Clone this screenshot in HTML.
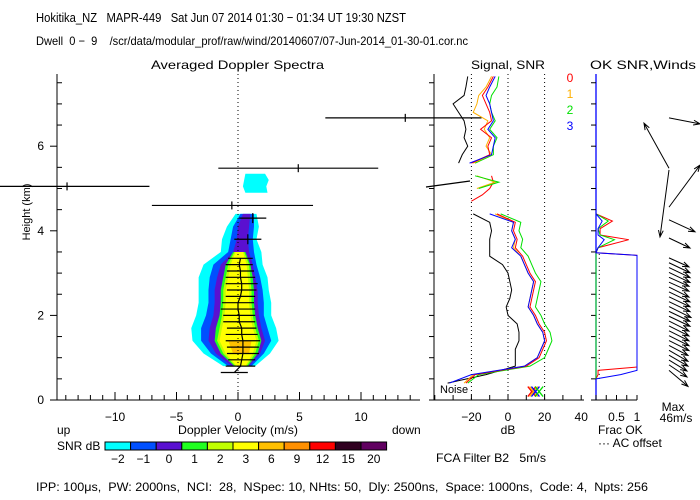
<!DOCTYPE html>
<html><head><meta charset="utf-8"><style>
body{margin:0;background:#fff}
svg{display:block;font-family:"Liberation Sans",sans-serif;font-size:12px}
text{white-space:pre}
</style></head><body>
<svg id="c" width="700" height="500" viewBox="0 0 700 500" xmlns="http://www.w3.org/2000/svg">
<text x="36" y="22" font-size="13" textLength="370" lengthAdjust="spacingAndGlyphs">Hokitika_NZ   MAPR-449   Sat Jun 07 2014 01:30 − 01:34 UT 19:30 NZST</text>
<text x="36" y="45" font-size="12" textLength="432" lengthAdjust="spacingAndGlyphs">Dwell  0 −  9    /scr/data/modular_prof/raw/wind/20140607/07-Jun-2014_01-30-01.cor.nc</text>
<text x="151" y="69" textLength="173" lengthAdjust="spacingAndGlyphs">Averaged Doppler Spectra</text>
<text x="471" y="69" textLength="74" lengthAdjust="spacingAndGlyphs">Signal, SNR</text>
<text x="590" y="69" textLength="106" lengthAdjust="spacingAndGlyphs">OK SNR,Winds</text>
<text x="0" y="0" transform="translate(30,212) rotate(-90)" text-anchor="middle" font-size="11">Height (km)</text>
<text x="178" y="434" textLength="120" lengthAdjust="spacingAndGlyphs">Doppler Velocity (m/s)</text>
<text x="57" y="434">up</text>
<text x="392" y="434">down</text>
<text x="57" y="450">SNR dB</text>
<text x="508" y="434" text-anchor="middle">dB</text>
<text x="598" y="434">Frac OK</text>
<text x="598" y="447">··· AC offset</text>
<text x="673" y="411" text-anchor="middle">Max</text>
<text x="676" y="422" text-anchor="middle">46m/s</text>
<text x="436" y="462" textLength="110" lengthAdjust="spacingAndGlyphs">FCA Filter B2   5m/s</text>
<text x="36" y="491" font-size="11.5" textLength="612" lengthAdjust="spacingAndGlyphs">IPP: 100μs,  PW: 2000ns,  NCI:  28,  NSpec: 10, NHts: 50,  Dly: 2500ns,  Space: 1000ns,  Code: 4,  Npts: 256</text>
<text x="440" y="393" font-size="11">Noise</text>
<g id="g"></g>
</svg>
<script>
// ---- data ----
const specH=[0.8,1.1,1.4,1.7,2.0,2.3,2.6,2.9,3.2,3.5,3.8,4.1,4.4];
const cyanL=[-1.2,-2.8,-3.7,-3.8,-3.4,-3.2,-3.2,-3.2,-2.8,-1.4,-1.3,-0.9,-0.2];
const cyanR=[1.4,2.6,3.3,3.1,2.7,2.7,2.5,2.4,2.0,1.9,1.5,1.7,1.5];
const blueL=[-0.8,-2.2,-3.0,-3.0,-2.6,-2.4,-2.4,-2.3,-2.0,-0.8,-0.6,-0.4,0.2];
const blueR=[1.1,2.1,2.7,2.4,2.1,2.1,2.0,1.8,1.5,1.3,1.2,1.3,1.3];
const purpL=[-0.5,-1.8,-2.4,-2.3,-2.0,-1.9,-1.9,-1.7,-1.4,-0.4,-0.1,0.0,0.4];
const purpR=[0.9,1.8,2.2,1.9,1.7,1.6,1.6,1.4,1.2,0.9,0.8,0.9,1.0];
const grnL=[-0.3,-1.4,-1.9,-1.8,-1.5,-1.4,-1.4,-1.2,-1.0,-0.4,null,null,null];
const grnR=[0.8,1.6,1.9,1.6,1.4,1.3,1.3,1.2,1.0,0.6,null,null,null];
const ygL=[-0.2,-1.2,-1.7,-1.5,-1.3,-1.2,-1.2,-1.0,-0.8,-0.3,null,null,null];
const ygR=[0.7,1.4,1.7,1.4,1.2,1.1,1.1,1.0,0.9,0.5,null,null,null];
const yelL=[-0.1,-1.0,-1.5,-1.3,-1.1,-1.0,-1.0,-0.8,-0.6,-0.2,null,null,null];
const yelR=[0.6,1.2,1.5,1.2,1.0,0.9,0.9,0.8,0.7,0.4,null,null,null];
const orgL=[null,-0.4,-0.8,null,null,null,null,null,null,null,null,null,null];
const orgR=[null,0.9,1.1,null,null,null,null,null,null,null,null,null,null];
const patchH=[4.9,5.05,5.2,5.35];
const patchL=[0.6,0.4,0.5,0.6];
const patchR=[2.4,2.3,2.5,2.2];
const meanH=[0.65,0.8,0.95,1.1,1.25,1.4,1.55,1.7,1.85,2.0,2.15,2.3,2.45,2.6,2.75,2.9,3.05,3.2,3.35,3.8,4.3];
const meanV=[-0.3,0.2,0.3,0.4,0.4,0.4,0.3,0.3,0.1,0.1,0.0,0.0,0.2,0.3,0.3,0.2,0.2,0.1,0.2,0.8,1.2];
const meanE=[1.1,1.2,1.1,1.3,1.3,1.4,1.3,1.2,1.3,1.3,1.4,1.3,1.2,1.2,1.3,1.2,1.1,1.1,1.0,1.1,1.1];
const bigH=[4.6,5.05,5.48,6.67];
const bigV=[-0.5,-13.9,4.9,13.6];
const bigLo=[-7.0,-19.5,-1.6,7.1];
const bigHi=[6.1,-7.2,11.4,19.8];
const cbLabels=["−2","−1","0","1","2","3","6","9","12","15","20"];
const cbColors=["#00ffff","#0050ff","#5a10d0","#20ff20","#c0ff00","#ffff00","#ffc000","#ff9000","#ff0000","#300020","#600060"];
const lowH=[0.4,0.6,0.8,1.0,1.2,1.4,1.6,1.8,2.0,2.2,2.4,2.6,2.8,3.0,3.2,3.4,3.6,3.8,4.0,4.2,4.4];
const blackLow=[-33,-12,4,4,4,6,6,5,0,-1,1,2,1,0,-3,-10,-10,-10,-9,-10,-19];
const redLow=[-23,-18,10,17,19,21,20,17,15,12,13,14,15,12,10,8,4,5,3,4,-6];
const orangeLow=[-24,-19,9,16,18,20,19,16,14,11,12,13,14,11,9,7,3,4,2,3,-7];
const greenLow=[-22,-16,12,20,22,24,23,20,18,15,16,17,18,15,13,11,7,8,6,7,-4];
const blueLow=[-32,-20,9,16,18,20,19,16,14,11,12,13,14,11,9,7,2,4,2,3,-10];
const upH=[5.6,5.8,6.0,6.2,6.4,6.6,6.8,7.0,7.2,7.4,7.65];
const blackUp=[-27,-25,-22,-24,-23,-24,-27,-30,-24,-23,-22];
const redUp=[-20,-10,-11,-9,-15,-9,-10,-12,-14,-11,-8];
const orangeUp=[-19,-9,-12,-10,-13,-11,-19,-17,-16,-12,-9];
const greenUp=[-18,-8,-8,-6,-10,-7,-9,-10,-9,-6,-5];
const blueUp=[-21,-9,-8,-7,-11,-8,-9,-10,-12,-10,-7];
const midH=[4.7,4.85,5.0,5.15,5.3];
const redMid=[-20,-14,-10,-8,-9];
const orangeMid=[null,null,-17,-7,-17];
const greenMid=[null,null,-16,-5,-18];
const fracH=[0.5,0.6,0.7,0.78,0.8,3.38,3.42,3.48,3.6,3.79,3.9,4.05,4.23,4.4];
const fracRed=[0,0.05,0.05,1,1,1,1,0,0.05,0.8,0.1,0.1,0.4,0];
const fracGreen=[0,0,0,0,0,0,0,0,0.05,0.45,0.1,0.05,0.3,0];
const fracBlue=[0,0.6,1,1,1,1,1,0,0.05,0.2,0.05,0.05,0.15,0];
const windH=[3.36,3.245,3.13,3.015,2.9,2.785,2.67,2.555,2.44,2.325,2.21,2.095,1.98,1.865,1.75,1.635,1.52,1.405,1.29,1.175,1.06,0.945,0.83,0.7,3.83,4.26,4.56,5.44,5.48,6.67];
const windU=[20,21,21,21,20,20,20,21,21,21,22,21,21,20,20,20,20,20,19,19,19,18,18,19,21,26,31,-9,-25,31];
const windV=[-9,-10,-10,-10,-9,-9,-10,-10,-10,-10,-11,-10,-10,-10,-10,-10,-10,-10,-10,-11,-11,-11,-12,-16,-10,-12,42,-67,45,-6];
// ---- scales ----
const xv=v=>238+12.3*v, yh=h=>400-42.3*h, xd=d=>508+1.83*d, xf=f=>596+41*f;
const NS="http://www.w3.org/2000/svg", G=document.getElementById('g');
function mk(t,a){const e=document.createElementNS(NS,t);for(const k in a)e.setAttribute(k,a[k]);G.appendChild(e);return e;}
function line(x1,y1,x2,y2,c,w,extra){const e=mk('line',{x1,y1,x2,y2,stroke:c||'#000','stroke-width':w||1});if(extra)for(const k in extra)e.setAttribute(k,extra[k]);return e;}
function txt(x,y,s,anchor,col){const e=mk('text',{x,y,'text-anchor':anchor||'middle',fill:col||'#000'});e.textContent=s;return e;}
const levels=[[cyanL,cyanR,0],[blueL,blueR,1],[purpL,purpR,2],[grnL,grnR,3],[ygL,ygR,4],[yelL,yelR,5],[orgL,orgR,6]];
levels.forEach(([L,R,ci])=>{
  const idx=specH.map((h,i)=>i).filter(i=>L[i]!==null);
  let pts=idx.map(i=>xv(L[i])+','+yh(specH[i]));
  pts=pts.concat(idx.slice().reverse().map(i=>xv(R[i])+','+yh(specH[i])));
  const p=mk('polygon',{points:pts.join(' '),fill:cbColors[ci]});
  
  
});
{let pts=patchH.map((h,i)=>xv(patchL[i])+','+yh(h)).concat(patchH.slice().reverse().map((h,j)=>{const i=patchH.length-1-j;return xv(patchR[i])+','+yh(h);}));
 const p=mk('polygon',{points:pts.join(' '),fill:cbColors[0]});
 
 }
line(xv(0),74,xv(0),400,'#000',1,{'stroke-dasharray':'1,3'});
{let d=meanH.slice(0,19).map((h,i)=>(i?'L':'M')+xv(meanV[i])+','+yh(h)).join('');
 const p=mk('path',{d,fill:'none',stroke:'#000','stroke-width':1.2});
 
 }
meanH.forEach((h,i)=>{
  const e=line(xv(meanV[i]-meanE[i]),yh(h),xv(meanV[i]+meanE[i]),yh(h),'#000',1.2);
  
  
  if(i>=19){line(xv(meanV[i]),yh(h)-5,xv(meanV[i]),yh(h)+5,'#000',1.2);}
});
bigH.forEach((h,i)=>{
  const e=line(Math.max(0,xv(bigLo[i])),yh(h),xv(bigHi[i]),yh(h),'#000',1.2);
  
  
  line(xv(bigV[i]),yh(h)-4,xv(bigV[i]),yh(h)+4,'#000',1.2);
});
line(426,187,470,181,'#000',1.2);
line(57,74,57,400);line(57,400,420,400);
for(let v=-14;v<=14;v++){const big=v%5===0;line(xv(v),400,xv(v),400-(big?8:5));if(big)txt(xv(v),421,v<0?'−'+(-v):String(v));}
for(let k=0;k<=15;k++){const h=k*0.5,y=yh(h);if(k%4===0){line(50,y,57,y);txt(44,y+4,String(h),'end');}else line(57,y,62,y);}
line(434,74,434,400);line(434,400,584,400);
for(let d=-40;d<=40;d+=10){line(xd(d),400,xd(d),395);if(d%20===0&&d>-40)txt(xd(d),421,d<0?'−'+(-d):String(d));}
for(let k=0;k<=15;k++){const y=yh(k*0.5);line(429,y,434,y);}
[-20,0,20].forEach(d=>line(xd(d),74,xd(d),400,'#000',1,{'stroke-dasharray':'1,3'}));
function series(H,V,col,fx,name){let d='',pen=false;V.forEach((v,i)=>{if(v===null){pen=false;return;}d+=(pen?'L':'M')+fx(v)+','+yh(H[i]);pen=true;});
  const p=mk('path',{d,fill:'none',stroke:col,'stroke-width':1});
  
  }
series(lowH,blackLow,'#000',xd,'signal-line-low');
series(upH,blackUp,'#000',xd,'signal-line-high');
const cols={red:'#ff0000',orange:'#ffb000',green:'#00e000',blue:'#0000ff'};
series(lowH,greenLow,cols.green,xd,'snr-beam2-low');series(lowH,orangeLow,cols.orange,xd,'snr-beam1-low');series(lowH,redLow,cols.red,xd,'snr-beam0-low');series(lowH,blueLow,cols.blue,xd,'snr-beam3-low');
series(upH,greenUp,cols.green,xd,'snr-beam2-high');series(upH,orangeUp,cols.orange,xd,'snr-beam1-high');series(upH,redUp,cols.red,xd,'snr-beam0-high');series(upH,blueUp,cols.blue,xd,'snr-beam3-high');
series(midH,redMid,cols.red,xd,'snr-beam0-mid');series(midH,orangeMid,cols.orange,xd,'snr-beam1-mid');series(midH,greenMid,cols.green,xd,'snr-beam2-mid');
[[13,cols.red],[14,cols.orange],[15,cols.blue],[17,cols.green]].forEach(([d,c])=>{const x=xd(d),y=yh(0.2);line(x-4,y-5,x+4,y+5,c,1.3);line(x-4,y+5,x+4,y-5,c,1.3);});
[['0',cols.red,82],['1',cols.orange,98],['2',cols.green,114],['3',cols.blue,130]].forEach(([s,c,y])=>{const t=txt(570,y,s,'middle',c);});
line(596,74,596,400,cols.blue,1.3);line(596,400,637,400);
[0,0.25,0.5,0.75,1].forEach(f=>{line(xf(f),400,xf(f),395);});txt(xf(0.5),421,'0.5');txt(xf(1),421,'1');
for(let k=0;k<=15;k++){const y=yh(k*0.5);line(591,y,596,y);}
line(xf(0.08),yh(0.5),xf(0.08),yh(3.5),'#000',1,{'stroke-dasharray':'1,3'});
series(fracH,fracRed,cols.red,xf,'frac-ok-beam0');series(fracH,fracGreen,cols.green,xf,'frac-ok-beam2');series(fracH,fracBlue,cols.blue,xf,'frac-ok-beam3');
windH.forEach((h,i)=>{
  const x1=669,y1=yh(h),x2=x1+windU[i],y2=y1-windV[i];
  const a=Math.atan2(y2-y1,x2-x1),L=7;
  const d=`M${x1},${y1}L${x2},${y2}M${x2-L*Math.cos(a-0.35)},${y2-L*Math.sin(a-0.35)}L${x2},${y2}L${x2-L*Math.cos(a+0.35)},${y2-L*Math.sin(a+0.35)}`;
  const p=mk('path',{d,fill:'none',stroke:'#000','stroke-width':1});
  
  
});
cbColors.forEach((c,i)=>{
  const r=mk('rect',{x:105+i*25.6,y:442,width:25.6,height:8,fill:c,stroke:'#000','stroke-width':1});
  
  
  txt(105+i*25.6+12.8,463,cbLabels[i]);
});
</script>
</body></html>
